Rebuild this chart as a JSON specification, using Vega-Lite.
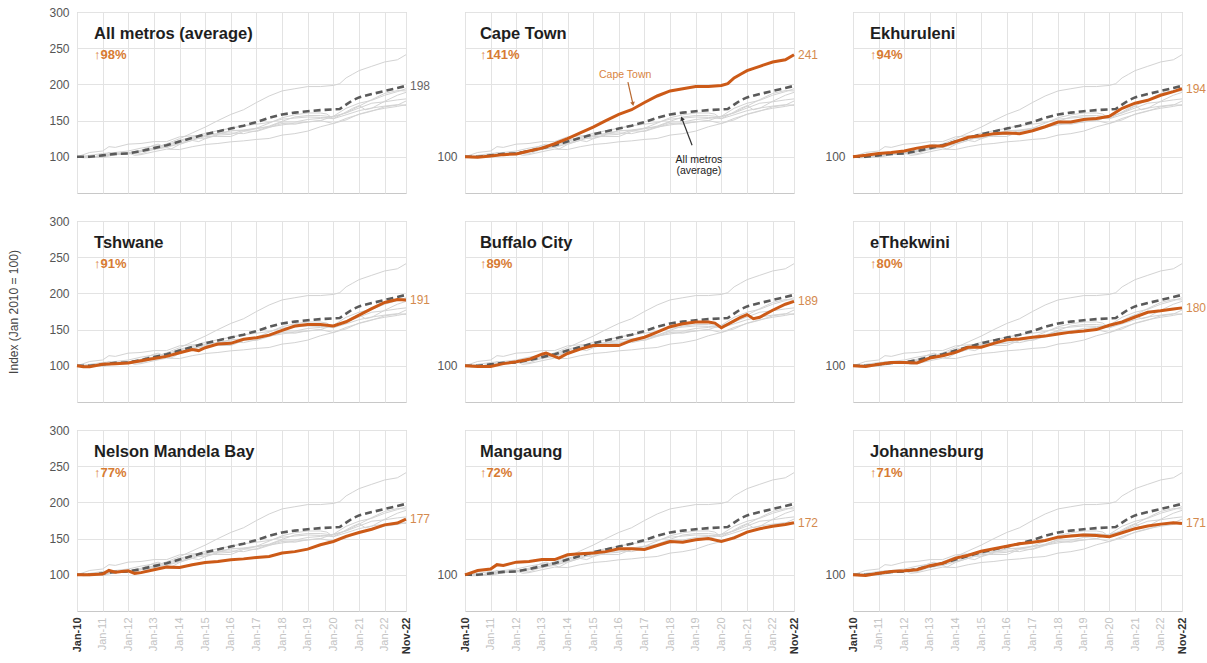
{
"$schema":"https://vega.github.io/schema/vega-lite/v6.json",
"background":"white",
"padding":{"left":7,"top":5,"right":5,"bottom":5},
"config":{"font":"Liberation Sans","view":{"stroke":"#c8c8c8"},"axis":{"domain":false,"ticks":false,"grid":true,"gridColor":"#e3e3e3","gridWidth":1,"labelFont":"Liberation Sans","labelFontSize":12,"labelColor":"#555555","labelPadding":8,"labelOverlap":false,"labelFlush":false,"labelBound":false,"titleFont":"Liberation Sans","titleFontWeight":"normal","titleFontSize":12,"titleColor":"#444444"}},
"datasets":{
"lab":[
{"p":"AVG","t":"All metros (average)","g":"↑98%"},
{"p":"CPT","t":"Cape Town","g":"↑141%"},
{"p":"EKU","t":"Ekhuruleni","g":"↑94%"},
{"p":"TSH","t":"Tshwane","g":"↑91%"},
{"p":"BUF","t":"Buffalo City","g":"↑89%"},
{"p":"ETH","t":"eThekwini","g":"↑80%"},
{"p":"NMB","t":"Nelson Mandela Bay","g":"↑77%"},
{"p":"MAN","t":"Mangaung","g":"↑72%"},
{"p":"JHB","t":"Johannesburg","g":"↑71%"}
],
"ts":[
{"s":"AVG","d":"2010-01-01","v":100},{"s":"AVG","d":"2010-07-01","v":100},{"s":"AVG","d":"2011-01-01","v":102},{"s":"AVG","d":"2011-07-01","v":104},{"s":"AVG","d":"2012-01-01","v":104.6},{"s":"AVG","d":"2012-07-01","v":108},{"s":"AVG","d":"2013-01-01","v":112},{"s":"AVG","d":"2013-07-01","v":116},{"s":"AVG","d":"2014-01-01","v":121},{"s":"AVG","d":"2014-07-01","v":126},{"s":"AVG","d":"2015-01-01","v":131},{"s":"AVG","d":"2015-07-01","v":135},{"s":"AVG","d":"2016-01-01","v":139},{"s":"AVG","d":"2016-07-01","v":143},{"s":"AVG","d":"2017-01-01","v":148},{"s":"AVG","d":"2017-07-01","v":154},{"s":"AVG","d":"2018-01-01","v":158.5},{"s":"AVG","d":"2018-07-01","v":161},{"s":"AVG","d":"2019-01-01","v":163},{"s":"AVG","d":"2019-07-01","v":164.5},{"s":"AVG","d":"2020-01-01","v":165.5},{"s":"AVG","d":"2020-04-01","v":166},{"s":"AVG","d":"2020-07-01","v":172},{"s":"AVG","d":"2020-10-01","v":178},{"s":"AVG","d":"2021-01-01","v":182},{"s":"AVG","d":"2021-07-01","v":186.6},{"s":"AVG","d":"2022-01-01","v":191},{"s":"AVG","d":"2022-07-01","v":195},{"s":"AVG","d":"2022-11-01","v":198},
{"s":"CPT","d":"2010-01-01","v":100},{"s":"CPT","d":"2010-07-01","v":99.5},{"s":"CPT","d":"2011-01-01","v":101},{"s":"CPT","d":"2011-07-01","v":103},{"s":"CPT","d":"2012-01-01","v":104},{"s":"CPT","d":"2012-07-01","v":108},{"s":"CPT","d":"2013-01-01","v":112},{"s":"CPT","d":"2013-07-01","v":118},{"s":"CPT","d":"2014-01-01","v":125},{"s":"CPT","d":"2014-07-01","v":133},{"s":"CPT","d":"2015-01-01","v":141},{"s":"CPT","d":"2015-07-01","v":150},{"s":"CPT","d":"2016-01-01","v":158.5},{"s":"CPT","d":"2016-07-01","v":165},{"s":"CPT","d":"2017-01-01","v":175},{"s":"CPT","d":"2017-07-01","v":184},{"s":"CPT","d":"2018-01-01","v":191},{"s":"CPT","d":"2018-07-01","v":194},{"s":"CPT","d":"2019-01-01","v":197},{"s":"CPT","d":"2019-07-01","v":197},{"s":"CPT","d":"2020-01-01","v":198.6},{"s":"CPT","d":"2020-04-01","v":201},{"s":"CPT","d":"2020-07-01","v":209},{"s":"CPT","d":"2020-10-01","v":214},{"s":"CPT","d":"2021-01-01","v":219},{"s":"CPT","d":"2021-07-01","v":225},{"s":"CPT","d":"2022-01-01","v":231},{"s":"CPT","d":"2022-07-01","v":234},{"s":"CPT","d":"2022-11-01","v":241},
{"s":"EKU","d":"2010-01-01","v":100},{"s":"EKU","d":"2010-07-01","v":102},{"s":"EKU","d":"2011-01-01","v":104.6},{"s":"EKU","d":"2011-07-01","v":106},{"s":"EKU","d":"2012-01-01","v":108},{"s":"EKU","d":"2012-07-01","v":112},{"s":"EKU","d":"2013-01-01","v":115},{"s":"EKU","d":"2013-07-01","v":115},{"s":"EKU","d":"2014-01-01","v":121},{"s":"EKU","d":"2014-07-01","v":127},{"s":"EKU","d":"2015-01-01","v":129},{"s":"EKU","d":"2015-07-01","v":132},{"s":"EKU","d":"2016-01-01","v":133},{"s":"EKU","d":"2016-07-01","v":132},{"s":"EKU","d":"2017-01-01","v":136},{"s":"EKU","d":"2017-07-01","v":141.5},{"s":"EKU","d":"2018-01-01","v":148},{"s":"EKU","d":"2018-07-01","v":148},{"s":"EKU","d":"2019-01-01","v":151.6},{"s":"EKU","d":"2019-07-01","v":153},{"s":"EKU","d":"2020-01-01","v":156},{"s":"EKU","d":"2020-07-01","v":167},{"s":"EKU","d":"2021-01-01","v":174},{"s":"EKU","d":"2021-07-01","v":178},{"s":"EKU","d":"2022-01-01","v":185},{"s":"EKU","d":"2022-07-01","v":190},{"s":"EKU","d":"2022-11-01","v":194},
{"s":"TSH","d":"2010-01-01","v":100},{"s":"TSH","d":"2010-04-01","v":98.6},{"s":"TSH","d":"2010-07-01","v":98.8},{"s":"TSH","d":"2011-01-01","v":102},{"s":"TSH","d":"2011-07-01","v":103},{"s":"TSH","d":"2012-01-01","v":104},{"s":"TSH","d":"2012-07-01","v":107},{"s":"TSH","d":"2013-01-01","v":110},{"s":"TSH","d":"2013-07-01","v":113},{"s":"TSH","d":"2014-01-01","v":118},{"s":"TSH","d":"2014-07-01","v":122.6},{"s":"TSH","d":"2014-10-01","v":121},{"s":"TSH","d":"2015-01-01","v":125},{"s":"TSH","d":"2015-07-01","v":130},{"s":"TSH","d":"2016-01-01","v":131},{"s":"TSH","d":"2016-07-01","v":136.6},{"s":"TSH","d":"2017-01-01","v":138.7},{"s":"TSH","d":"2017-07-01","v":142.4},{"s":"TSH","d":"2018-01-01","v":149},{"s":"TSH","d":"2018-07-01","v":155},{"s":"TSH","d":"2019-01-01","v":157},{"s":"TSH","d":"2019-07-01","v":157},{"s":"TSH","d":"2020-01-01","v":155},{"s":"TSH","d":"2020-07-01","v":160.8},{"s":"TSH","d":"2021-01-01","v":170},{"s":"TSH","d":"2021-07-01","v":179},{"s":"TSH","d":"2022-01-01","v":187.5},{"s":"TSH","d":"2022-07-01","v":191.5},{"s":"TSH","d":"2022-11-01","v":191},
{"s":"BUF","d":"2010-01-01","v":100},{"s":"BUF","d":"2010-07-01","v":99},{"s":"BUF","d":"2011-01-01","v":99},{"s":"BUF","d":"2011-07-01","v":103},{"s":"BUF","d":"2012-01-01","v":105.6},{"s":"BUF","d":"2012-07-01","v":109},{"s":"BUF","d":"2013-01-01","v":116},{"s":"BUF","d":"2013-03-01","v":117.5},{"s":"BUF","d":"2013-09-01","v":110.7},{"s":"BUF","d":"2014-01-01","v":117},{"s":"BUF","d":"2014-07-01","v":123},{"s":"BUF","d":"2015-01-01","v":128},{"s":"BUF","d":"2015-07-01","v":128},{"s":"BUF","d":"2016-01-01","v":128},{"s":"BUF","d":"2016-07-01","v":135},{"s":"BUF","d":"2017-01-01","v":139.5},{"s":"BUF","d":"2017-07-01","v":146.5},{"s":"BUF","d":"2018-01-01","v":154},{"s":"BUF","d":"2018-07-01","v":158},{"s":"BUF","d":"2019-01-01","v":160.5},{"s":"BUF","d":"2019-07-01","v":160.5},{"s":"BUF","d":"2019-10-01","v":159},{"s":"BUF","d":"2020-01-01","v":152.6},{"s":"BUF","d":"2020-07-01","v":162},{"s":"BUF","d":"2020-10-01","v":167},{"s":"BUF","d":"2021-01-01","v":170.7},{"s":"BUF","d":"2021-04-01","v":165},{"s":"BUF","d":"2021-07-01","v":167},{"s":"BUF","d":"2022-01-01","v":176.7},{"s":"BUF","d":"2022-07-01","v":185},{"s":"BUF","d":"2022-11-01","v":189},
{"s":"ETH","d":"2010-01-01","v":100},{"s":"ETH","d":"2010-07-01","v":99},{"s":"ETH","d":"2011-01-01","v":102},{"s":"ETH","d":"2011-07-01","v":104.6},{"s":"ETH","d":"2012-01-01","v":104.6},{"s":"ETH","d":"2012-07-01","v":104},{"s":"ETH","d":"2013-01-01","v":110.7},{"s":"ETH","d":"2013-07-01","v":114},{"s":"ETH","d":"2014-01-01","v":118.6},{"s":"ETH","d":"2014-07-01","v":125.6},{"s":"ETH","d":"2015-01-01","v":125.6},{"s":"ETH","d":"2015-07-01","v":131},{"s":"ETH","d":"2016-01-01","v":136},{"s":"ETH","d":"2016-07-01","v":137},{"s":"ETH","d":"2017-01-01","v":139.5},{"s":"ETH","d":"2017-07-01","v":141},{"s":"ETH","d":"2018-01-01","v":144},{"s":"ETH","d":"2018-07-01","v":146.5},{"s":"ETH","d":"2019-01-01","v":148},{"s":"ETH","d":"2019-07-01","v":150},{"s":"ETH","d":"2020-01-01","v":156},{"s":"ETH","d":"2020-07-01","v":160.5},{"s":"ETH","d":"2021-01-01","v":167.4},{"s":"ETH","d":"2021-07-01","v":174},{"s":"ETH","d":"2022-01-01","v":176},{"s":"ETH","d":"2022-07-01","v":178.6},{"s":"ETH","d":"2022-11-01","v":180},
{"s":"NMB","d":"2010-01-01","v":100},{"s":"NMB","d":"2010-07-01","v":100},{"s":"NMB","d":"2011-01-01","v":101},{"s":"NMB","d":"2011-04-01","v":106},{"s":"NMB","d":"2011-07-01","v":103.7},{"s":"NMB","d":"2012-01-01","v":105.5},{"s":"NMB","d":"2012-04-01","v":102},{"s":"NMB","d":"2012-07-01","v":103},{"s":"NMB","d":"2013-01-01","v":107},{"s":"NMB","d":"2013-07-01","v":110.6},{"s":"NMB","d":"2014-01-01","v":110},{"s":"NMB","d":"2014-07-01","v":114},{"s":"NMB","d":"2015-01-01","v":117},{"s":"NMB","d":"2015-07-01","v":118.4},{"s":"NMB","d":"2016-01-01","v":120.7},{"s":"NMB","d":"2016-07-01","v":122},{"s":"NMB","d":"2017-01-01","v":124},{"s":"NMB","d":"2017-07-01","v":125.3},{"s":"NMB","d":"2018-01-01","v":130},{"s":"NMB","d":"2018-07-01","v":132},{"s":"NMB","d":"2019-01-01","v":135.5},{"s":"NMB","d":"2019-07-01","v":141.5},{"s":"NMB","d":"2020-01-01","v":146},{"s":"NMB","d":"2020-07-01","v":153},{"s":"NMB","d":"2021-01-01","v":158.5},{"s":"NMB","d":"2021-07-01","v":163},{"s":"NMB","d":"2022-01-01","v":169},{"s":"NMB","d":"2022-07-01","v":171.4},{"s":"NMB","d":"2022-11-01","v":177},
{"s":"MAN","d":"2010-01-01","v":100},{"s":"MAN","d":"2010-07-01","v":106},{"s":"MAN","d":"2011-01-01","v":108},{"s":"MAN","d":"2011-04-01","v":114},{"s":"MAN","d":"2011-07-01","v":113},{"s":"MAN","d":"2012-01-01","v":117.5},{"s":"MAN","d":"2012-07-01","v":118.4},{"s":"MAN","d":"2013-01-01","v":121},{"s":"MAN","d":"2013-07-01","v":121},{"s":"MAN","d":"2014-01-01","v":127.6},{"s":"MAN","d":"2014-07-01","v":129},{"s":"MAN","d":"2015-01-01","v":130},{"s":"MAN","d":"2015-07-01","v":132},{"s":"MAN","d":"2016-01-01","v":136},{"s":"MAN","d":"2016-07-01","v":136},{"s":"MAN","d":"2017-01-01","v":135},{"s":"MAN","d":"2017-07-01","v":140.5},{"s":"MAN","d":"2018-01-01","v":146},{"s":"MAN","d":"2018-07-01","v":145},{"s":"MAN","d":"2019-01-01","v":148.4},{"s":"MAN","d":"2019-07-01","v":150},{"s":"MAN","d":"2020-01-01","v":146},{"s":"MAN","d":"2020-07-01","v":151},{"s":"MAN","d":"2021-01-01","v":159},{"s":"MAN","d":"2021-07-01","v":163.6},{"s":"MAN","d":"2022-01-01","v":167},{"s":"MAN","d":"2022-07-01","v":169.6},{"s":"MAN","d":"2022-11-01","v":172},
{"s":"JHB","d":"2010-01-01","v":100},{"s":"JHB","d":"2010-07-01","v":99},{"s":"JHB","d":"2011-01-01","v":102},{"s":"JHB","d":"2011-07-01","v":104.6},{"s":"JHB","d":"2012-01-01","v":105.6},{"s":"JHB","d":"2012-07-01","v":107},{"s":"JHB","d":"2013-01-01","v":112.6},{"s":"JHB","d":"2013-07-01","v":116},{"s":"JHB","d":"2014-01-01","v":123},{"s":"JHB","d":"2014-07-01","v":127},{"s":"JHB","d":"2015-01-01","v":132.6},{"s":"JHB","d":"2015-07-01","v":136},{"s":"JHB","d":"2016-01-01","v":139.5},{"s":"JHB","d":"2016-07-01","v":143},{"s":"JHB","d":"2017-01-01","v":145},{"s":"JHB","d":"2017-07-01","v":147.4},{"s":"JHB","d":"2018-01-01","v":152},{"s":"JHB","d":"2018-07-01","v":153.5},{"s":"JHB","d":"2019-01-01","v":155},{"s":"JHB","d":"2019-07-01","v":154.4},{"s":"JHB","d":"2020-01-01","v":152.6},{"s":"JHB","d":"2020-07-01","v":158},{"s":"JHB","d":"2021-01-01","v":163.7},{"s":"JHB","d":"2021-07-01","v":167.4},{"s":"JHB","d":"2022-01-01","v":170},{"s":"JHB","d":"2022-07-01","v":172},{"s":"JHB","d":"2022-11-01","v":171}
]},
"columns":3,
"spacing":{"row":28,"column":59},
"bounds":"flush",
"concat":[
{"width":329,"height":181,"resolve":{"axis":{"x":"independent","y":"independent"}},
"layer":[
{"data":{"name":"ts"},"transform":[{"filter":"datum.s!='AVG'"}],"mark":{"type":"line","color":"#d3d3d3","strokeWidth":1},"encoding":{"x":{"field":"d","type":"temporal","scale":{"type":"utc","domain":[1262304000000,1667260800000]},"axis":{"values":[1262304000000,1293840000000,1325376000000,1356998400000,1388534400000,1420070400000,1451606400000,1483228800000,1514764800000,1546300800000,1577836800000,1609459200000,1640995200000,1667260800000],"labels":false,"title":null}},"y":{"field":"v","type":"quantitative","scale":{"domain":[50,300],"nice":false,"zero":false},"axis":{"values":[100,150,200,250,300],"title":null}},"detail":{"field":"s"}}},
{"data":{"name":"ts"},"transform":[{"filter":"datum.s=='AVG'"}],"mark":{"type":"line","color":"#5a5a5a","strokeWidth":2.6,"strokeDash":[7,4]},"encoding":{"x":{"field":"d","type":"temporal","axis":null},"y":{"field":"v","type":"quantitative","axis":null}}},
{"data":{"name":"ts"},"transform":[{"filter":"datum.s=='AVG' && time(datum.d)==1667260800000"}],"mark":{"type":"text","align":"left","dx":4,"fontSize":12,"color":"#666666"},"encoding":{"x":{"field":"d","type":"temporal","axis":null},"y":{"field":"v","type":"quantitative","axis":null},"text":{"field":"v","type":"quantitative","format":".0f"}}},
{"data":{"name":"lab"},"transform":[{"filter":"datum.p=='AVG'"}],"mark":{"type":"text","align":"left","baseline":"alphabetic","fontSize":16.5,"fontWeight":"bold","color":"#1e1e1e"},"encoding":{"x":{"datum":1283299200000,"type":"temporal","axis":null},"y":{"datum":263,"type":"quantitative","axis":null},"text":{"field":"t"}}},
{"data":{"name":"lab"},"transform":[{"filter":"datum.p=='AVG'"}],"mark":{"type":"text","align":"left","baseline":"alphabetic","fontSize":13,"fontWeight":"bold","color":"#d77b33"},"encoding":{"x":{"datum":1283299200000,"type":"temporal","axis":null},"y":{"datum":235,"type":"quantitative","axis":null},"text":{"field":"g"}}}
]},
{"width":329,"height":181,"resolve":{"axis":{"x":"independent","y":"independent"}},
"layer":[
{"data":{"name":"ts"},"transform":[{"filter":"datum.s!='AVG'"}],"mark":{"type":"line","color":"#d3d3d3","strokeWidth":1},"encoding":{"x":{"field":"d","type":"temporal","scale":{"type":"utc","domain":[1262304000000,1667260800000]},"axis":{"values":[1262304000000,1293840000000,1325376000000,1356998400000,1388534400000,1420070400000,1451606400000,1483228800000,1514764800000,1546300800000,1577836800000,1609459200000,1640995200000,1667260800000],"labels":false,"title":null}},"y":{"field":"v","type":"quantitative","scale":{"domain":[50,300],"nice":false,"zero":false},"axis":{"values":[100,150,200,250,300],"labelExpr":"datum.value==100?'100':''","title":null}},"detail":{"field":"s"}}},
{"data":{"name":"ts"},"transform":[{"filter":"datum.s=='AVG'"}],"mark":{"type":"line","color":"#5a5a5a","strokeWidth":2.6,"strokeDash":[7,4]},"encoding":{"x":{"field":"d","type":"temporal","axis":null},"y":{"field":"v","type":"quantitative","axis":null}}},
{"data":{"name":"ts"},"transform":[{"filter":"datum.s=='CPT'"}],"mark":{"type":"line","color":"#cc5a17","strokeWidth":3},"encoding":{"x":{"field":"d","type":"temporal","axis":null},"y":{"field":"v","type":"quantitative","axis":null}}},
{"data":{"name":"ts"},"transform":[{"filter":"datum.s=='CPT' && time(datum.d)==1667260800000"}],"mark":{"type":"text","align":"left","dx":4,"fontSize":12,"color":"#d48a4e"},"encoding":{"x":{"field":"d","type":"temporal","axis":null},"y":{"field":"v","type":"quantitative","axis":null},"text":{"field":"v","type":"quantitative","format":".0f"}}},
{"data":{"name":"lab"},"transform":[{"filter":"datum.p=='CPT'"}],"mark":{"type":"text","align":"left","baseline":"alphabetic","fontSize":16.5,"fontWeight":"bold","color":"#1e1e1e"},"encoding":{"x":{"datum":1280620800000,"type":"temporal","axis":null},"y":{"datum":263,"type":"quantitative","axis":null},"text":{"field":"t"}}},
{"data":{"name":"lab"},"transform":[{"filter":"datum.p=='CPT'"}],"mark":{"type":"text","align":"left","baseline":"alphabetic","fontSize":13,"fontWeight":"bold","color":"#d77b33"},"encoding":{"x":{"datum":1280620800000,"type":"temporal","axis":null},"y":{"datum":235,"type":"quantitative","axis":null},"text":{"field":"g"}}},
{"data":{"name":"lab"},"transform":[{"filter":"datum.p=='CPT'"}],"mark":{"type":"text","align":"center","baseline":"middle","fontSize":10.5,"color":"#d9843f"},"encoding":{"x":{"datum":1459468800000,"type":"temporal","axis":null},"y":{"datum":213,"type":"quantitative","axis":null},"text":{"value":"Cape Town"}}},
{"data":{"name":"lab"},"transform":[{"filter":"datum.p=='CPT'"}],"mark":{"type":"rule","color":"#b8682f","strokeWidth":1.2},"encoding":{"x":{"datum":1462838400000,"type":"temporal","axis":null},"y":{"datum":203,"type":"quantitative","axis":null},"x2":{"datum":1468972800000},"y2":{"datum":173}}},
{"data":{"name":"lab"},"transform":[{"filter":"datum.p=='CPT'"}],"mark":{"type":"point","shape":"triangle-up","filled":true,"size":22,"angle":168,"color":"#b8682f","opacity":1},"encoding":{"x":{"datum":1468972800000,"type":"temporal","axis":null},"y":{"datum":173,"type":"quantitative","axis":null}}},
{"data":{"name":"lab"},"transform":[{"filter":"datum.p=='CPT'"}],"mark":{"type":"text","align":"center","baseline":"middle","fontSize":10.5,"lineHeight":11,"color":"#222222"},"encoding":{"x":{"datum":1550188800000,"type":"temporal","axis":null},"y":{"datum":95,"type":"quantitative","axis":null},"text":{"value":["All metros","(average)"]}}},
{"data":{"name":"lab"},"transform":[{"filter":"datum.p=='CPT'"}],"mark":{"type":"rule","color":"#333333","strokeWidth":1.2},"encoding":{"x":{"datum":1541808000000,"type":"temporal","axis":null},"y":{"datum":116,"type":"quantitative","axis":null},"x2":{"datum":1529280000000},"y2":{"datum":153}}},
{"data":{"name":"lab"},"transform":[{"filter":"datum.p=='CPT'"}],"mark":{"type":"point","shape":"triangle-up","filled":true,"size":22,"angle":340,"color":"#333333","opacity":1},"encoding":{"x":{"datum":1529280000000,"type":"temporal","axis":null},"y":{"datum":153,"type":"quantitative","axis":null}}}
]},
{"width":329,"height":181,"resolve":{"axis":{"x":"independent","y":"independent"}},
"layer":[
{"data":{"name":"ts"},"transform":[{"filter":"datum.s!='AVG'"}],"mark":{"type":"line","color":"#d3d3d3","strokeWidth":1},"encoding":{"x":{"field":"d","type":"temporal","scale":{"type":"utc","domain":[1262304000000,1667260800000]},"axis":{"values":[1262304000000,1293840000000,1325376000000,1356998400000,1388534400000,1420070400000,1451606400000,1483228800000,1514764800000,1546300800000,1577836800000,1609459200000,1640995200000,1667260800000],"labels":false,"title":null}},"y":{"field":"v","type":"quantitative","scale":{"domain":[50,300],"nice":false,"zero":false},"axis":{"values":[100,150,200,250,300],"labelExpr":"datum.value==100?'100':''","title":null}},"detail":{"field":"s"}}},
{"data":{"name":"ts"},"transform":[{"filter":"datum.s=='AVG'"}],"mark":{"type":"line","color":"#5a5a5a","strokeWidth":2.6,"strokeDash":[7,4]},"encoding":{"x":{"field":"d","type":"temporal","axis":null},"y":{"field":"v","type":"quantitative","axis":null}}},
{"data":{"name":"ts"},"transform":[{"filter":"datum.s=='EKU'"}],"mark":{"type":"line","color":"#cc5a17","strokeWidth":3},"encoding":{"x":{"field":"d","type":"temporal","axis":null},"y":{"field":"v","type":"quantitative","axis":null}}},
{"data":{"name":"ts"},"transform":[{"filter":"datum.s=='EKU' && time(datum.d)==1667260800000"}],"mark":{"type":"text","align":"left","dx":4,"fontSize":12,"color":"#d48a4e"},"encoding":{"x":{"field":"d","type":"temporal","axis":null},"y":{"field":"v","type":"quantitative","axis":null},"text":{"field":"v","type":"quantitative","format":".0f"}}},
{"data":{"name":"lab"},"transform":[{"filter":"datum.p=='EKU'"}],"mark":{"type":"text","align":"left","baseline":"alphabetic","fontSize":16.5,"fontWeight":"bold","color":"#1e1e1e"},"encoding":{"x":{"datum":1283299200000,"type":"temporal","axis":null},"y":{"datum":263,"type":"quantitative","axis":null},"text":{"field":"t"}}},
{"data":{"name":"lab"},"transform":[{"filter":"datum.p=='EKU'"}],"mark":{"type":"text","align":"left","baseline":"alphabetic","fontSize":13,"fontWeight":"bold","color":"#d77b33"},"encoding":{"x":{"datum":1283299200000,"type":"temporal","axis":null},"y":{"datum":235,"type":"quantitative","axis":null},"text":{"field":"g"}}}
]},
{"width":329,"height":181,"resolve":{"axis":{"x":"independent","y":"independent"}},
"layer":[
{"data":{"name":"ts"},"transform":[{"filter":"datum.s!='AVG'"}],"mark":{"type":"line","color":"#d3d3d3","strokeWidth":1},"encoding":{"x":{"field":"d","type":"temporal","scale":{"type":"utc","domain":[1262304000000,1667260800000]},"axis":{"values":[1262304000000,1293840000000,1325376000000,1356998400000,1388534400000,1420070400000,1451606400000,1483228800000,1514764800000,1546300800000,1577836800000,1609459200000,1640995200000,1667260800000],"labels":false,"title":null}},"y":{"field":"v","type":"quantitative","scale":{"domain":[50,300],"nice":false,"zero":false},"axis":{"values":[100,150,200,250,300],"title":"Index (Jan 2010 = 100)","titlePadding":28}},"detail":{"field":"s"}}},
{"data":{"name":"ts"},"transform":[{"filter":"datum.s=='AVG'"}],"mark":{"type":"line","color":"#5a5a5a","strokeWidth":2.6,"strokeDash":[7,4]},"encoding":{"x":{"field":"d","type":"temporal","axis":null},"y":{"field":"v","type":"quantitative","axis":null}}},
{"data":{"name":"ts"},"transform":[{"filter":"datum.s=='TSH'"}],"mark":{"type":"line","color":"#cc5a17","strokeWidth":3},"encoding":{"x":{"field":"d","type":"temporal","axis":null},"y":{"field":"v","type":"quantitative","axis":null}}},
{"data":{"name":"ts"},"transform":[{"filter":"datum.s=='TSH' && time(datum.d)==1667260800000"}],"mark":{"type":"text","align":"left","dx":4,"fontSize":12,"color":"#d48a4e"},"encoding":{"x":{"field":"d","type":"temporal","axis":null},"y":{"field":"v","type":"quantitative","axis":null},"text":{"field":"v","type":"quantitative","format":".0f"}}},
{"data":{"name":"lab"},"transform":[{"filter":"datum.p=='TSH'"}],"mark":{"type":"text","align":"left","baseline":"alphabetic","fontSize":16.5,"fontWeight":"bold","color":"#1e1e1e"},"encoding":{"x":{"datum":1283299200000,"type":"temporal","axis":null},"y":{"datum":263,"type":"quantitative","axis":null},"text":{"field":"t"}}},
{"data":{"name":"lab"},"transform":[{"filter":"datum.p=='TSH'"}],"mark":{"type":"text","align":"left","baseline":"alphabetic","fontSize":13,"fontWeight":"bold","color":"#d77b33"},"encoding":{"x":{"datum":1283299200000,"type":"temporal","axis":null},"y":{"datum":235,"type":"quantitative","axis":null},"text":{"field":"g"}}}
]},
{"width":329,"height":181,"resolve":{"axis":{"x":"independent","y":"independent"}},
"layer":[
{"data":{"name":"ts"},"transform":[{"filter":"datum.s!='AVG'"}],"mark":{"type":"line","color":"#d3d3d3","strokeWidth":1},"encoding":{"x":{"field":"d","type":"temporal","scale":{"type":"utc","domain":[1262304000000,1667260800000]},"axis":{"values":[1262304000000,1293840000000,1325376000000,1356998400000,1388534400000,1420070400000,1451606400000,1483228800000,1514764800000,1546300800000,1577836800000,1609459200000,1640995200000,1667260800000],"labels":false,"title":null}},"y":{"field":"v","type":"quantitative","scale":{"domain":[50,300],"nice":false,"zero":false},"axis":{"values":[100,150,200,250,300],"labelExpr":"datum.value==100?'100':''","title":null}},"detail":{"field":"s"}}},
{"data":{"name":"ts"},"transform":[{"filter":"datum.s=='AVG'"}],"mark":{"type":"line","color":"#5a5a5a","strokeWidth":2.6,"strokeDash":[7,4]},"encoding":{"x":{"field":"d","type":"temporal","axis":null},"y":{"field":"v","type":"quantitative","axis":null}}},
{"data":{"name":"ts"},"transform":[{"filter":"datum.s=='BUF'"}],"mark":{"type":"line","color":"#cc5a17","strokeWidth":3},"encoding":{"x":{"field":"d","type":"temporal","axis":null},"y":{"field":"v","type":"quantitative","axis":null}}},
{"data":{"name":"ts"},"transform":[{"filter":"datum.s=='BUF' && time(datum.d)==1667260800000"}],"mark":{"type":"text","align":"left","dx":4,"fontSize":12,"color":"#d48a4e"},"encoding":{"x":{"field":"d","type":"temporal","axis":null},"y":{"field":"v","type":"quantitative","axis":null},"text":{"field":"v","type":"quantitative","format":".0f"}}},
{"data":{"name":"lab"},"transform":[{"filter":"datum.p=='BUF'"}],"mark":{"type":"text","align":"left","baseline":"alphabetic","fontSize":16.5,"fontWeight":"bold","color":"#1e1e1e"},"encoding":{"x":{"datum":1280620800000,"type":"temporal","axis":null},"y":{"datum":263,"type":"quantitative","axis":null},"text":{"field":"t"}}},
{"data":{"name":"lab"},"transform":[{"filter":"datum.p=='BUF'"}],"mark":{"type":"text","align":"left","baseline":"alphabetic","fontSize":13,"fontWeight":"bold","color":"#d77b33"},"encoding":{"x":{"datum":1280620800000,"type":"temporal","axis":null},"y":{"datum":235,"type":"quantitative","axis":null},"text":{"field":"g"}}}
]},
{"width":329,"height":181,"resolve":{"axis":{"x":"independent","y":"independent"}},
"layer":[
{"data":{"name":"ts"},"transform":[{"filter":"datum.s!='AVG'"}],"mark":{"type":"line","color":"#d3d3d3","strokeWidth":1},"encoding":{"x":{"field":"d","type":"temporal","scale":{"type":"utc","domain":[1262304000000,1667260800000]},"axis":{"values":[1262304000000,1293840000000,1325376000000,1356998400000,1388534400000,1420070400000,1451606400000,1483228800000,1514764800000,1546300800000,1577836800000,1609459200000,1640995200000,1667260800000],"labels":false,"title":null}},"y":{"field":"v","type":"quantitative","scale":{"domain":[50,300],"nice":false,"zero":false},"axis":{"values":[100,150,200,250,300],"labelExpr":"datum.value==100?'100':''","title":null}},"detail":{"field":"s"}}},
{"data":{"name":"ts"},"transform":[{"filter":"datum.s=='AVG'"}],"mark":{"type":"line","color":"#5a5a5a","strokeWidth":2.6,"strokeDash":[7,4]},"encoding":{"x":{"field":"d","type":"temporal","axis":null},"y":{"field":"v","type":"quantitative","axis":null}}},
{"data":{"name":"ts"},"transform":[{"filter":"datum.s=='ETH'"}],"mark":{"type":"line","color":"#cc5a17","strokeWidth":3},"encoding":{"x":{"field":"d","type":"temporal","axis":null},"y":{"field":"v","type":"quantitative","axis":null}}},
{"data":{"name":"ts"},"transform":[{"filter":"datum.s=='ETH' && time(datum.d)==1667260800000"}],"mark":{"type":"text","align":"left","dx":4,"fontSize":12,"color":"#d48a4e"},"encoding":{"x":{"field":"d","type":"temporal","axis":null},"y":{"field":"v","type":"quantitative","axis":null},"text":{"field":"v","type":"quantitative","format":".0f"}}},
{"data":{"name":"lab"},"transform":[{"filter":"datum.p=='ETH'"}],"mark":{"type":"text","align":"left","baseline":"alphabetic","fontSize":16.5,"fontWeight":"bold","color":"#1e1e1e"},"encoding":{"x":{"datum":1283299200000,"type":"temporal","axis":null},"y":{"datum":263,"type":"quantitative","axis":null},"text":{"field":"t"}}},
{"data":{"name":"lab"},"transform":[{"filter":"datum.p=='ETH'"}],"mark":{"type":"text","align":"left","baseline":"alphabetic","fontSize":13,"fontWeight":"bold","color":"#d77b33"},"encoding":{"x":{"datum":1283299200000,"type":"temporal","axis":null},"y":{"datum":235,"type":"quantitative","axis":null},"text":{"field":"g"}}}
]},
{"width":329,"height":181,"resolve":{"axis":{"x":"independent","y":"independent"}},
"layer":[
{"data":{"name":"ts"},"transform":[{"filter":"datum.s!='AVG'"}],"mark":{"type":"line","color":"#d3d3d3","strokeWidth":1},"encoding":{"x":{"field":"d","type":"temporal","scale":{"type":"utc","domain":[1262304000000,1667260800000]},"axis":{"values":[1262304000000,1293840000000,1325376000000,1356998400000,1388534400000,1420070400000,1451606400000,1483228800000,1514764800000,1546300800000,1577836800000,1609459200000,1640995200000,1667260800000],"title":null,"labelAngle":-90,"labelFontSize":11,"labelPadding":6,"labelExpr":"utcFormat(datum.value, '%b-%y')","labelColor":{"condition":{"test":"utcyear(datum.value)==2010 || utcmonth(datum.value)==10","value":"#333333"},"value":"#c4c4c4"},"labelFontWeight":{"condition":{"test":"utcyear(datum.value)==2010 || utcmonth(datum.value)==10","value":"bold"},"value":"normal"}}},"y":{"field":"v","type":"quantitative","scale":{"domain":[50,300],"nice":false,"zero":false},"axis":{"values":[100,150,200,250,300],"title":null}},"detail":{"field":"s"}}},
{"data":{"name":"ts"},"transform":[{"filter":"datum.s=='AVG'"}],"mark":{"type":"line","color":"#5a5a5a","strokeWidth":2.6,"strokeDash":[7,4]},"encoding":{"x":{"field":"d","type":"temporal","axis":null},"y":{"field":"v","type":"quantitative","axis":null}}},
{"data":{"name":"ts"},"transform":[{"filter":"datum.s=='NMB'"}],"mark":{"type":"line","color":"#cc5a17","strokeWidth":3},"encoding":{"x":{"field":"d","type":"temporal","axis":null},"y":{"field":"v","type":"quantitative","axis":null}}},
{"data":{"name":"ts"},"transform":[{"filter":"datum.s=='NMB' && time(datum.d)==1667260800000"}],"mark":{"type":"text","align":"left","dx":4,"fontSize":12,"color":"#d48a4e"},"encoding":{"x":{"field":"d","type":"temporal","axis":null},"y":{"field":"v","type":"quantitative","axis":null},"text":{"field":"v","type":"quantitative","format":".0f"}}},
{"data":{"name":"lab"},"transform":[{"filter":"datum.p=='NMB'"}],"mark":{"type":"text","align":"left","baseline":"alphabetic","fontSize":16.5,"fontWeight":"bold","color":"#1e1e1e"},"encoding":{"x":{"datum":1283299200000,"type":"temporal","axis":null},"y":{"datum":263,"type":"quantitative","axis":null},"text":{"field":"t"}}},
{"data":{"name":"lab"},"transform":[{"filter":"datum.p=='NMB'"}],"mark":{"type":"text","align":"left","baseline":"alphabetic","fontSize":13,"fontWeight":"bold","color":"#d77b33"},"encoding":{"x":{"datum":1283299200000,"type":"temporal","axis":null},"y":{"datum":235,"type":"quantitative","axis":null},"text":{"field":"g"}}}
]},
{"width":329,"height":181,"resolve":{"axis":{"x":"independent","y":"independent"}},
"layer":[
{"data":{"name":"ts"},"transform":[{"filter":"datum.s!='AVG'"}],"mark":{"type":"line","color":"#d3d3d3","strokeWidth":1},"encoding":{"x":{"field":"d","type":"temporal","scale":{"type":"utc","domain":[1262304000000,1667260800000]},"axis":{"values":[1262304000000,1293840000000,1325376000000,1356998400000,1388534400000,1420070400000,1451606400000,1483228800000,1514764800000,1546300800000,1577836800000,1609459200000,1640995200000,1667260800000],"title":null,"labelAngle":-90,"labelFontSize":11,"labelPadding":6,"labelExpr":"utcFormat(datum.value, '%b-%y')","labelColor":{"condition":{"test":"utcyear(datum.value)==2010 || utcmonth(datum.value)==10","value":"#333333"},"value":"#c4c4c4"},"labelFontWeight":{"condition":{"test":"utcyear(datum.value)==2010 || utcmonth(datum.value)==10","value":"bold"},"value":"normal"}}},"y":{"field":"v","type":"quantitative","scale":{"domain":[50,300],"nice":false,"zero":false},"axis":{"values":[100,150,200,250,300],"labelExpr":"datum.value==100?'100':''","title":null}},"detail":{"field":"s"}}},
{"data":{"name":"ts"},"transform":[{"filter":"datum.s=='AVG'"}],"mark":{"type":"line","color":"#5a5a5a","strokeWidth":2.6,"strokeDash":[7,4]},"encoding":{"x":{"field":"d","type":"temporal","axis":null},"y":{"field":"v","type":"quantitative","axis":null}}},
{"data":{"name":"ts"},"transform":[{"filter":"datum.s=='MAN'"}],"mark":{"type":"line","color":"#cc5a17","strokeWidth":3},"encoding":{"x":{"field":"d","type":"temporal","axis":null},"y":{"field":"v","type":"quantitative","axis":null}}},
{"data":{"name":"ts"},"transform":[{"filter":"datum.s=='MAN' && time(datum.d)==1667260800000"}],"mark":{"type":"text","align":"left","dx":4,"fontSize":12,"color":"#d48a4e"},"encoding":{"x":{"field":"d","type":"temporal","axis":null},"y":{"field":"v","type":"quantitative","axis":null},"text":{"field":"v","type":"quantitative","format":".0f"}}},
{"data":{"name":"lab"},"transform":[{"filter":"datum.p=='MAN'"}],"mark":{"type":"text","align":"left","baseline":"alphabetic","fontSize":16.5,"fontWeight":"bold","color":"#1e1e1e"},"encoding":{"x":{"datum":1280620800000,"type":"temporal","axis":null},"y":{"datum":263,"type":"quantitative","axis":null},"text":{"field":"t"}}},
{"data":{"name":"lab"},"transform":[{"filter":"datum.p=='MAN'"}],"mark":{"type":"text","align":"left","baseline":"alphabetic","fontSize":13,"fontWeight":"bold","color":"#d77b33"},"encoding":{"x":{"datum":1280620800000,"type":"temporal","axis":null},"y":{"datum":235,"type":"quantitative","axis":null},"text":{"field":"g"}}}
]},
{"width":329,"height":181,"resolve":{"axis":{"x":"independent","y":"independent"}},
"layer":[
{"data":{"name":"ts"},"transform":[{"filter":"datum.s!='AVG'"}],"mark":{"type":"line","color":"#d3d3d3","strokeWidth":1},"encoding":{"x":{"field":"d","type":"temporal","scale":{"type":"utc","domain":[1262304000000,1667260800000]},"axis":{"values":[1262304000000,1293840000000,1325376000000,1356998400000,1388534400000,1420070400000,1451606400000,1483228800000,1514764800000,1546300800000,1577836800000,1609459200000,1640995200000,1667260800000],"title":null,"labelAngle":-90,"labelFontSize":11,"labelPadding":6,"labelExpr":"utcFormat(datum.value, '%b-%y')","labelColor":{"condition":{"test":"utcyear(datum.value)==2010 || utcmonth(datum.value)==10","value":"#333333"},"value":"#c4c4c4"},"labelFontWeight":{"condition":{"test":"utcyear(datum.value)==2010 || utcmonth(datum.value)==10","value":"bold"},"value":"normal"}}},"y":{"field":"v","type":"quantitative","scale":{"domain":[50,300],"nice":false,"zero":false},"axis":{"values":[100,150,200,250,300],"labelExpr":"datum.value==100?'100':''","title":null}},"detail":{"field":"s"}}},
{"data":{"name":"ts"},"transform":[{"filter":"datum.s=='AVG'"}],"mark":{"type":"line","color":"#5a5a5a","strokeWidth":2.6,"strokeDash":[7,4]},"encoding":{"x":{"field":"d","type":"temporal","axis":null},"y":{"field":"v","type":"quantitative","axis":null}}},
{"data":{"name":"ts"},"transform":[{"filter":"datum.s=='JHB'"}],"mark":{"type":"line","color":"#cc5a17","strokeWidth":3},"encoding":{"x":{"field":"d","type":"temporal","axis":null},"y":{"field":"v","type":"quantitative","axis":null}}},
{"data":{"name":"ts"},"transform":[{"filter":"datum.s=='JHB' && time(datum.d)==1667260800000"}],"mark":{"type":"text","align":"left","dx":4,"fontSize":12,"color":"#d48a4e"},"encoding":{"x":{"field":"d","type":"temporal","axis":null},"y":{"field":"v","type":"quantitative","axis":null},"text":{"field":"v","type":"quantitative","format":".0f"}}},
{"data":{"name":"lab"},"transform":[{"filter":"datum.p=='JHB'"}],"mark":{"type":"text","align":"left","baseline":"alphabetic","fontSize":16.5,"fontWeight":"bold","color":"#1e1e1e"},"encoding":{"x":{"datum":1283299200000,"type":"temporal","axis":null},"y":{"datum":263,"type":"quantitative","axis":null},"text":{"field":"t"}}},
{"data":{"name":"lab"},"transform":[{"filter":"datum.p=='JHB'"}],"mark":{"type":"text","align":"left","baseline":"alphabetic","fontSize":13,"fontWeight":"bold","color":"#d77b33"},"encoding":{"x":{"datum":1283299200000,"type":"temporal","axis":null},"y":{"datum":235,"type":"quantitative","axis":null},"text":{"field":"g"}}}
]}
]
}
